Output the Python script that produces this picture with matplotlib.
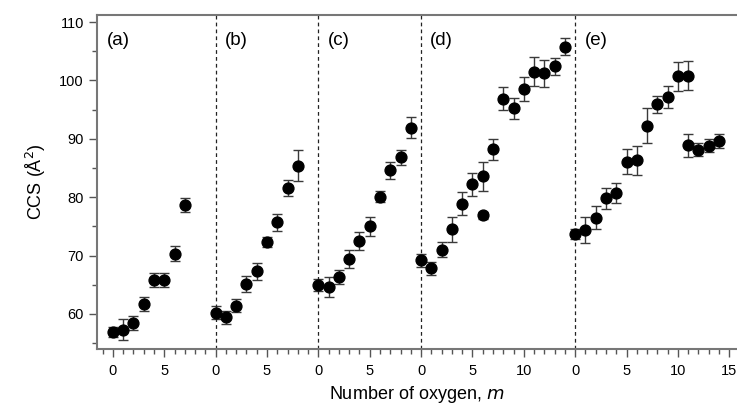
import matplotlib
matplotlib.use("Agg")
import matplotlib.pyplot as plt
import numpy as np
from matplotlib.ticker import MultipleLocator, FixedLocator

plt.rcParams["font.family"] = ["Liberation Sans", "DejaVu Sans"]

# panel layout along the shared x axis
panel_names = ["(a)", "(b)", "(c)", "(d)", "(e)"]
panel_offsets = [0, 10, 20, 30, 45]

# (m, CCS, error) per panel
a_m = [0, 1, 2, 3, 4, 5, 6, 7]
a_ccs = [56.9, 57.3, 58.4, 61.7, 65.9, 65.9, 70.3, 78.6]
a_err = [0.9, 1.8, 1.2, 1.2, 1.2, 1.2, 1.3, 1.2]

b_m = [0, 1, 2, 3, 4, 5, 6, 7, 8]
b_ccs = [60.2, 59.4, 61.4, 65.1, 67.3, 72.3, 75.7, 81.6, 85.4]
b_err = [1.1, 1.1, 1.1, 1.4, 1.4, 0.9, 1.5, 1.4, 2.6]

c_m = [0, 1, 2, 3, 4, 5, 6, 7, 8, 9]
c_ccs = [65.0, 64.6, 66.3, 69.4, 72.5, 75.0, 80.1, 84.6, 86.8, 91.9]
c_err = [1.0, 1.7, 1.2, 1.5, 1.6, 1.6, 0.9, 1.4, 1.3, 1.8]

d_m = [0, 1, 2, 3, 4, 5, 6, 6, 7, 8, 9, 10, 11, 12, 13, 14]
d_ccs = [69.2, 67.8, 71.0, 74.5, 78.9, 82.2, 83.6, 76.9, 88.2, 96.9, 95.2,
         98.5, 101.5, 101.2, 102.4, 105.8]
d_err = [1.1, 1.1, 1.3, 2.1, 2.0, 2.0, 2.5, 0.6, 1.8, 2.0, 1.8, 2.0, 2.5,
         2.3, 1.4, 1.5]

e_m = [0, 1, 2, 3, 4, 5, 6, 7, 8, 9, 10, 11, 11, 12, 13, 14]
e_ccs = [73.7, 74.4, 76.5, 79.8, 80.7, 86.1, 86.3, 92.2, 95.9, 97.1, 100.7,
         100.8, 88.9, 88.1, 88.8, 89.7]
e_err = [0.8, 2.2, 2.0, 1.8, 1.7, 2.2, 2.5, 3.0, 1.4, 1.9, 2.5, 2.5, 2.0,
         1.1, 1.1, 1.2]

tick_labels = ["0", "5", "0", "5", "0", "5", "0", "5", "10", "0", "5", "10", "15"]
tick_pos = [0, 5, 10, 15, 20, 25, 30, 35, 40, 45, 50, 55, 60]

panels = [(a_m, a_ccs, a_err), (b_m, b_ccs, b_err), (c_m, c_ccs, c_err),
          (d_m, d_ccs, d_err), (e_m, e_ccs, e_err)]

fig = plt.figure(figsize=(7.37, 4.08), dpi=100)
ax = fig.add_axes([0.1316, 0.1446, 0.8684, 0.8186])

for off, (m, ccs, err) in zip(panel_offsets, panels):
    x = np.array(m) + off
    ax.errorbar(x, ccs, yerr=err, fmt="o", color="black", ms=7.8,
                ecolor="#3a3a3a", elinewidth=1.0, capsize=3.5, capthick=1.0)

for off in panel_offsets[1:]:
    ax.axvline(off, color="#222222", lw=0.9, ls=(0, (3, 2.5)))

for i, (name, off) in enumerate(zip(panel_names, panel_offsets)):
    lx = -0.6 if i == 0 else off + 0.9
    ax.text(lx, 106.9, name, fontsize=13.5, va="center", ha="left")

ax.set_xlim(-1.55, 60.75)
ax.set_ylim(54, 111.2)

ax.xaxis.set_major_locator(FixedLocator(tick_pos))
ax.set_xticklabels(tick_labels)
ax.xaxis.set_minor_locator(MultipleLocator(1))
ax.yaxis.set_major_locator(MultipleLocator(10))
ax.yaxis.set_minor_locator(MultipleLocator(5))

ax.tick_params(axis="both", which="major", direction="out", length=6,
               width=1, color="#555555", labelsize=10.5)
ax.tick_params(axis="both", which="minor", direction="out", length=3.5,
               width=1, color="#555555")
ax.tick_params(axis="x", which="both", pad=5)

for side in ["left", "bottom", "top"]:
    ax.spines[side].set_color("#777777")
    ax.spines[side].set_linewidth(1.5)
ax.spines["right"].set_visible(False)

ax.set_ylabel("CCS (Å$^2$)", fontsize=13, labelpad=8)
ax.set_xlabel("Number of oxygen, $m$", fontsize=13, labelpad=4)

fig.savefig("out.png", dpi=100)
